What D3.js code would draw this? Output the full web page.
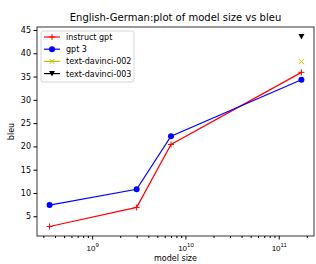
<!DOCTYPE html>
<html>
<head>
<meta charset="utf-8">
<script src="https://cdn.jsdelivr.net/npm/d3@7"></script>
<style>
  body { margin: 0; background: #fff; }
  svg { font-family: "DejaVu Sans", sans-serif; }
</style>
</head>
<body>
<svg id="chart"></svg>
<script>
// model sizes (parameters) and bleu scores
const gptSizes = [3.5e8, 3e9, 7e9, 1.75e11];
const instructGpt = [2.8, 6.9, 20.4, 35.9];
const gpt3 = [7.4, 10.8, 22.2, 34.3];
const davinci002Size = [1.75e11];
const davinci002 = [38.2];
const davinci003Size = [1.75e11];
const davinci003 = [43.6];
const yTicks = [5, 10, 15, 20, 25, 30, 35, 40, 45];
const xTicks = [1e9, 1e10, 1e11];

const series = [
  { name: "instruct gpt", xs: gptSizes, ys: instructGpt, color: "#ff0000", marker: "plus", line: true },
  { name: "gpt 3", xs: gptSizes, ys: gpt3, color: "#0000ff", marker: "circle", line: true },
  { name: "text-davinci-002", xs: davinci002Size, ys: davinci002, color: "#bfbf00", marker: "x", line: true },
  { name: "text-davinci-003", xs: davinci003Size, ys: davinci003, color: "#000000", marker: "tri", line: true }
];

const W = 316, H = 264;
const margin = { top: 27, right: 2, bottom: 28, left: 37 };
const width = W - margin.left - margin.right;
const height = H - margin.top - margin.bottom;

// matplotlib-like 5% padding (log space on x)
const allX = series.flatMap(s => s.xs).map(Math.log10);
const allY = series.flatMap(s => s.ys);
const lx = d3.extent(allX), ly = d3.extent(allY);
const px = (lx[1] - lx[0]) * 0.05, py = (ly[1] - ly[0]) * 0.05;

const x = d3.scaleLog()
  .domain([Math.pow(10, lx[0] - px), Math.pow(10, lx[1] + px)])
  .range([0, width]);
const y = d3.scaleLinear()
  .domain([ly[0] - py, ly[1] + py])
  .range([height, 0]);

const svg = d3.select("#chart").attr("width", W).attr("height", H);
const g = svg.append("g").attr("transform", `translate(${margin.left},${margin.top})`);

// title
svg.append("text")
  .attr("x", margin.left + width / 2)
  .attr("y", 21)
  .attr("text-anchor", "middle")
  .style("font-size", "10px")
  .text("English-German:plot of model size vs bleu");

// y axis
const yAxis = g.append("g")
  .call(d3.axisLeft(y).tickValues(yTicks).tickSize(3.5).tickPadding(2.5));
yAxis.select(".domain").remove();
yAxis.selectAll("text").style("font-size", "8px").style("font-family", "DejaVu Sans");

// x axis: major + minor log ticks
const minor = [];
for (let e = 8; e <= 11; e++) {
  for (let k = 2; k <= 9; k++) {
    const v = k * Math.pow(10, e);
    if (v >= x.domain()[0] && v <= x.domain()[1]) minor.push(v);
  }
}
const xMinor = g.append("g")
  .attr("transform", `translate(0,${height})`)
  .call(d3.axisBottom(x).tickValues(minor).tickSize(2).tickFormat(""));
xMinor.select(".domain").remove();

const xAxis = g.append("g")
  .attr("transform", `translate(0,${height})`)
  .call(d3.axisBottom(x).tickValues(xTicks).tickSize(3.5).tickFormat(""));
xAxis.select(".domain").remove();
xAxis.selectAll(".tick").each(function(d) {
  const t = d3.select(this).append("text")
    .attr("y", 15)
    .attr("text-anchor", "middle")
    .attr("fill", "#000")
    .style("font-size", "8px");
  t.append("tspan").text("10");
  t.append("tspan").attr("dy", -4).style("font-size", "6px").text(Math.round(Math.log10(d)));
});

// frame
g.append("rect")
  .attr("width", width).attr("height", height)
  .attr("fill", "none").attr("stroke", "#000").attr("stroke-width", 0.8);

// axis labels
svg.append("text")
  .attr("x", margin.left + width / 2).attr("y", 261)
  .attr("text-anchor", "middle").style("font-size", "8px")
  .text("model size");
svg.append("text")
  .attr("transform", `translate(14,${margin.top + height / 2}) rotate(-90)`)
  .attr("text-anchor", "middle").style("font-size", "8px")
  .text("bleu");

function drawMarker(sel, type, color, cx, cy) {
  if (type === "circle") {
    sel.append("circle").attr("cx", cx).attr("cy", cy).attr("r", 3).attr("fill", color);
  } else if (type === "plus") {
    sel.append("path").attr("d", `M${cx - 3},${cy}H${cx + 3}M${cx},${cy - 3}V${cy + 3}`)
      .attr("stroke", color).attr("stroke-width", 1);
  } else if (type === "x") {
    sel.append("path").attr("d", `M${cx - 2.5},${cy - 2.5}L${cx + 2.5},${cy + 2.5}M${cx - 2.5},${cy + 2.5}L${cx + 2.5},${cy - 2.5}`)
      .attr("stroke", color).attr("stroke-width", 1);
  } else if (type === "tri") {
    sel.append("path").attr("d", `M${cx - 3},${cy - 2.5}L${cx + 3},${cy - 2.5}L${cx},${cy + 3}Z`)
      .attr("fill", color);
  }
}

// lines + markers
const line = d3.line().x(d => x(d[0])).y(d => y(d[1]));
series.forEach(s => {
  const pts = s.xs.map((v, i) => [v, s.ys[i]]);
  if (pts.length > 1) {
    g.append("path").datum(pts).attr("d", line)
      .attr("fill", "none").attr("stroke", s.color).attr("stroke-width", 1.2);
  }
  pts.forEach(p => drawMarker(g, s.marker, s.color, x(p[0]), y(p[1])));
});

// legend
const lg = g.append("g").attr("transform", "translate(4,4)");
lg.append("rect")
  .attr("width", 93).attr("height", 51).attr("rx", 2)
  .attr("fill", "#fff").attr("fill-opacity", 0.8)
  .attr("stroke", "#ccc").attr("stroke-width", 0.8);
series.forEach((s, i) => {
  const ly0 = 6 + i * 12.2;
  lg.append("line").attr("x1", 3).attr("x2", 19).attr("y1", ly0).attr("y2", ly0)
    .attr("stroke", s.color).attr("stroke-width", 1.2);
  drawMarker(lg, s.marker, s.color, 11, ly0);
  lg.append("text").attr("x", 25).attr("y", ly0 + 3).style("font-size", "8px").text(s.name);
});
</script>
</body>
</html>
